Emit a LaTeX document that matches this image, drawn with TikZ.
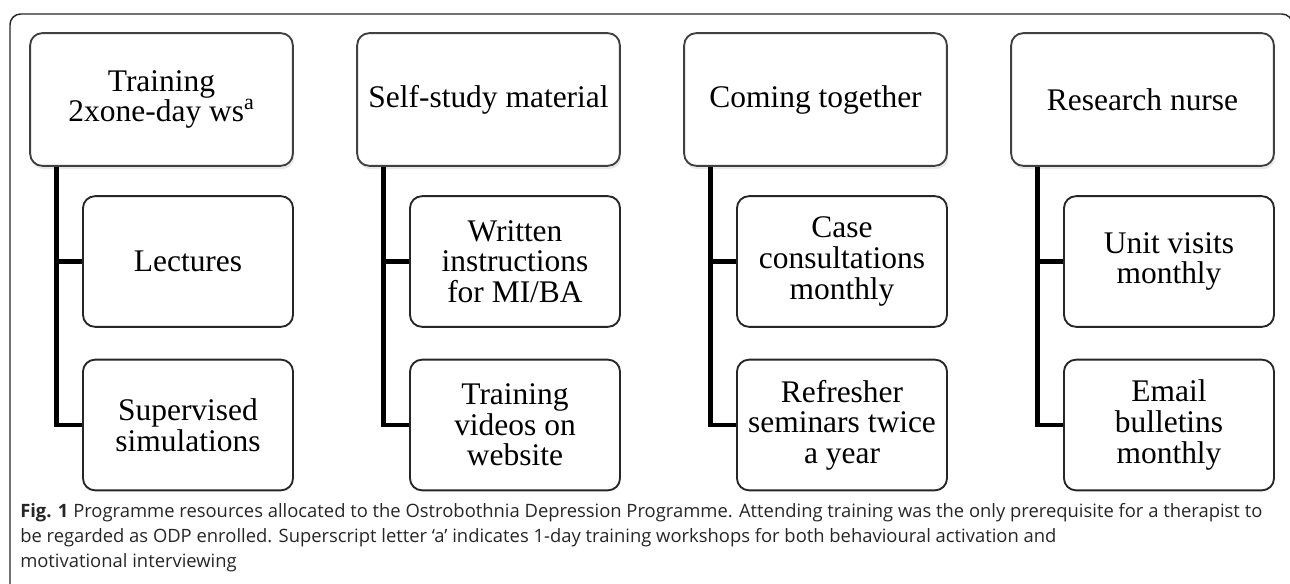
\documentclass[tikz,border=0pt]{standalone}
\usepackage{fontspec}
\setmainfont{Liberation Serif}
\newfontfamily\capfont{Open Sans}
\usetikzlibrary{shadows}

\begin{document}
\begin{tikzpicture}[x=0.75pt,y=-0.75pt,
    head/.style={draw=black!75, line width=1.4pt, rounded corners=9pt, fill=white,
      minimum width=197pt, minimum height=99.5pt, align=center,
      font=\fontsize{23.6}{22.9}\selectfont,
      drop shadow={shadow xshift=1pt, shadow yshift=-2.5pt, opacity=.18}},
    item/.style={draw=black!85, line width=1.4pt, rounded corners=9pt, fill=white,
      minimum width=157.5pt, minimum height=98pt, align=center,
      font=\fontsize{23.6}{22.9}\selectfont},
    link/.style={line width=3.6pt},
    frame/.style={draw=black!85, line width=1.1pt, rounded corners=8pt}]
  \useasboundingbox (0,0) rectangle (1290,584);
  \clip (0,0) rectangle (1290,584);
  \draw[frame] (10,640) |- (1292.5,14) -- (1292.5,640);

  % training
  \node[head] (train) at (161.5,99.5) {Training\\2xone-day ws\textsuperscript{a}};
  \node[item] (lect) at (188,261.5) {Lectures};
  \node[item] (simul) at (188,425) {Supervised\\simulations};
  \draw[link] ([xshift=20.6pt]train.south west) |- (simul.west);
  \draw[link] (lect.west) -| ([xshift=20.6pt]train.south west);

  % self-study
  \node[head] (self) at (488.5,99.5) {Self-study material};
  \node[item] (instr) at (515,261.5) {Written\\instructions\\for MI/BA};
  \node[item] (video) at (515,425) {Training\\videos on\\website};
  \draw[link] ([xshift=20.6pt]self.south west) |- (video.west);
  \draw[link] (instr.west) -| ([xshift=20.6pt]self.south west);

  % coming together
  \node[head] (meet) at (815.5,99.5) {Coming together};
  \node[item] (cases) at (842,261.5) {Case\\consultations\\monthly};
  \node[item] (semin) at (842,425) {Refresher\\seminars twice\\a year};
  \draw[link] ([xshift=20.6pt]meet.south west) |- (semin.west);
  \draw[link] (cases.west) -| ([xshift=20.6pt]meet.south west);

  % research nurse
  \node[head] (nurse) at (1142.5,99.5) {Research nurse};
  \node[item] (visit) at (1169,261.5) {Unit visits\\monthly};
  \node[item] (mail) at (1169,425) {Email\\bulletins\\monthly};
  \draw[link] ([xshift=20.6pt]nurse.south west) |- (mail.west);
  \draw[link] (visit.west) -| ([xshift=20.6pt]nurse.south west);

  %\draw (645,530) node {caption};
  \node[anchor=north west, inner sep=0pt, align=left, text=black!85,
    font=\capfont\fontsize{13.8}{18.75}\selectfont] (capt) at (20,503)
    {\textbf{Fig. 1} Programme resources allocated to the Ostrobothnia Depression Programme. Attending training was the only prerequisite for a therapist to\\
     be regarded as ODP enrolled. Superscript letter ‘a’ indicates 1-day training workshops for both behavioural activation and\\
     motivational interviewing};
\end{tikzpicture}
\end{document}
